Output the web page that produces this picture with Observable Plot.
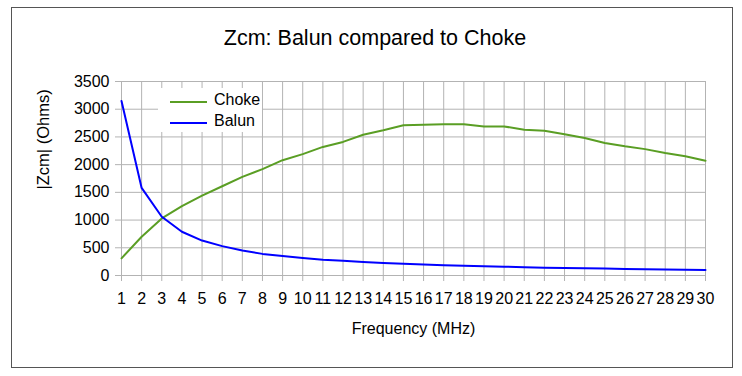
<!DOCTYPE html>
<html>
<head>
<meta charset="utf-8">
<script src="https://cdn.jsdelivr.net/npm/d3@7"></script>
<script src="https://cdn.jsdelivr.net/npm/@observablehq/plot@0.6"></script>
<style>
  body { margin: 0; background: #fff; }
  #wrap { position: relative; width: 742px; height: 376px; overflow: hidden; font-family: "Liberation Sans", Arial, sans-serif; }
  #border { position: absolute; left: 11px; top: 7px; width: 720px; height: 359px; border: 1px solid #555; box-sizing: content-box; }
  #title { position: absolute; left: 0; width: 750px; top: 26px; text-align: center; font-size: 21.5px; color: #000; }
  #chart { position: absolute; left: 0; top: 0; }
  #legend { position: absolute; left: 158px; top: 88px; width: 104px; height: 44px; background: #fff; }
  .li { position: absolute; left: 12px; height: 20px; font-size: 16px; color: #000; }
  .li span.sw { position: absolute; left: 0; top: 11px; width: 37px; height: 2px; }
  .li span.tx { position: absolute; left: 44px; top: 0; white-space: nowrap; line-height: 20px; }
</style>
</head>
<body>
<div id="wrap">
  <div id="border"></div>
  <div id="chart"></div>
  <div id="legend"></div>
  <div id="title">Zcm: Balun compared to Choke</div>
</div>
<script>
const freq = [1,2,3,4,5,6,7,8,9,10,11,12,13,14,15,16,17,18,19,20,21,22,23,24,25,26,27,28,29,30];
const choke = [310,700,1030,1250,1440,1610,1780,1920,2080,2190,2320,2410,2540,2620,2710,2720,2730,2730,2690,2690,2630,2610,2550,2480,2390,2330,2280,2210,2150,2070];
const balun = [3150,1580,1060,790,630,530,450,390,350,315,285,265,245,225,210,200,185,175,165,158,150,140,135,130,125,118,112,108,105,100];
const yTicks = [0,500,1000,1500,2000,2500,3000,3500];
const seriesNames = ["Choke", "Balun"];
const seriesColors = ["#5a9e24", "#0000ff"];
const xLabel = "Frequency (MHz)";
const yLabel = "|Zcm| (Ohms)";

const data = [];
freq.forEach((f, i) => {
  data.push({f, v: choke[i], s: seriesNames[0]});
  data.push({f, v: balun[i], s: seriesNames[1]});
});

const chart = Plot.plot({
  width: 742,
  height: 376,
  marginLeft: 121,
  marginRight: 37,
  marginTop: 81,
  marginBottom: 101,
  style: {fontFamily: '"Liberation Sans", Arial, sans-serif', fontSize: "16px", color: "#000", background: "transparent"},
  x: {domain: [1, 30]},
  y: {domain: [0, 3500]},
  color: {domain: seriesNames, range: seriesColors},
  marks: [
    Plot.gridX(freq, {stroke: "#b3b3b3", strokeOpacity: 1}),
    Plot.gridY(yTicks, {stroke: "#b3b3b3", strokeOpacity: 1}),
    Plot.axisX(freq, {tickSize: 6, stroke: "#b3b3b3", fill: "#000", tickPadding: 11, tickFormat: d => String(d),
      label: xLabel, labelAnchor: "center", labelArrow: "none", labelOffset: 58}),
    Plot.axisY(yTicks, {tickSize: 6, stroke: "#b3b3b3", fill: "#000", tickPadding: 6, tickFormat: d => String(d), label: null}),
    Plot.text([yLabel], {frameAnchor: "left", dx: -78, dy: 11, rotate: -90, fill: "#000", fontSize: 16.5, text: d => d}),
    Plot.ruleY([0], {stroke: "#b3b3b3"}),
    Plot.ruleX([1], {stroke: "#b3b3b3"}),
    Plot.line(data, {x: "f", y: "v", z: "s", stroke: "s", strokeWidth: 2})
  ]
});
document.getElementById("chart").appendChild(chart);

const legend = document.getElementById("legend");
seriesNames.forEach((n, i) => {
  const d = document.createElement("div");
  d.className = "li";
  d.style.top = (2 + i * 21) + "px";
  d.innerHTML = `<span class="sw" style="background:${seriesColors[i]}"></span><span class="tx">${n}</span>`;
  legend.appendChild(d);
});
</script>
</body>
</html>
